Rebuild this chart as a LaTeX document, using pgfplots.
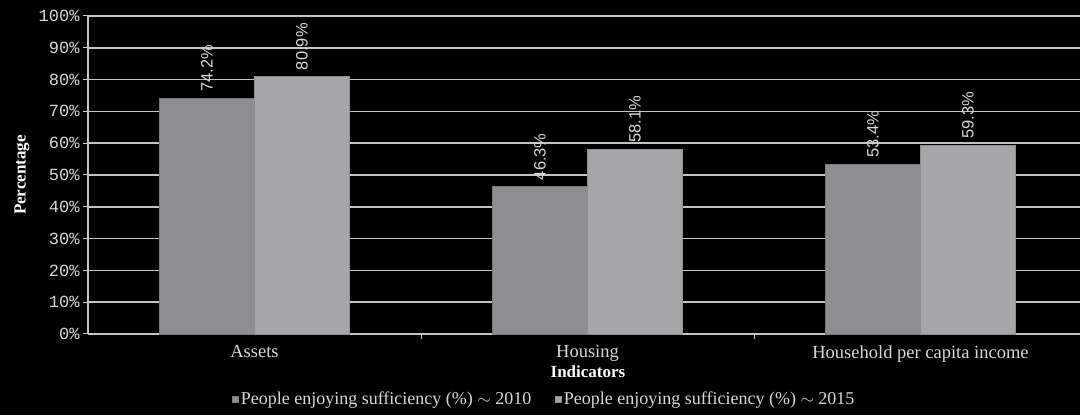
\documentclass[border=0pt]{standalone}
\usepackage{fontspec}
\setmainfont{Liberation Serif}
\newfontfamily\monofont{Liberation Mono}
\newfontfamily\sansfont{Liberation Sans}
\usepackage{pgfplots}
\pgfplotsset{compat=1.18}
\definecolor{barA}{HTML}{8E8E90}
\definecolor{barB}{HTML}{A6A6A8}
\definecolor{edgeA}{HTML}{7A7A7C}
\definecolor{edgeB}{HTML}{8E8E90}
\definecolor{gridc}{HTML}{C4C4C4}
\definecolor{txt}{HTML}{D8D8D8}
\begin{document}
\begin{tikzpicture}[x=1pt,y=1pt]
\fill[black] (0,0) rectangle (1080,415);
\useasboundingbox (0,0) rectangle (1080,415);
\begin{axis}[
  at={(88pt,81pt)}, anchor=south west,
  scale only axis, width=992pt, height=318pt,
  xmin=-0.5, xmax=2.479, ymin=0, ymax=100,
  ybar=0pt, bar width=95pt,
  xtick={0.5,1.5}, xticklabels={},
  extra x ticks={0,1,2}, extra x tick labels={Assets,Housing,Household per capita income},
  extra x tick style={major tick length=0pt, grid=none},
  ytick={0,10,...,100},
  yticklabel={\pgfmathprintnumber{\tick}\%},
  /pgf/number format/assume math mode=true,
  ymajorgrids, grid style={draw=gridc, line width=1.5pt},
  tick style={draw=gridc, line width=1pt}, major tick length=5pt,
  axis line style={draw=gridc, line width=1.5pt},
  axis x line*=bottom, axis y line*=left,
  every outer x axis line/.append style={-}, every outer y axis line/.append style={-},
  tick align=outside,
  yticklabel style={font=\monofont\fontsize{17}{17}\selectfont, text=txt, xshift=0pt},
  xticklabel style={font=\fontsize{18.5}{18.5}\selectfont, text=txt, yshift=-8pt},
  xlabel={Indicators}, ylabel={Percentage},
  xlabel style={font=\bfseries\fontsize{17}{17}\selectfont, text=white, at={(axis description cs:0.504,0)}, anchor=center, yshift=-38pt},
  ylabel style={font=\bfseries\fontsize{17}{17}\selectfont, text=white, at={(axis description cs:-0.0665,0.5)}, anchor=center},
  nodes near coords={\pgfmathprintnumber[fixed,precision=1,fixed zerofill]{\pgfplotspointmeta}\%},
  every node near coord/.append style={font=\sansfont\fontsize{16.5}{16.5}\selectfont, text=txt, rotate=90, anchor=west, xshift=3pt},
  legend style={at={(0.46,0)}, yshift=-65pt, anchor=center, draw=none, fill=none,
    font=\fontsize{18}{18}\selectfont, text=txt, legend columns=2,
    /tikz/every even column/.append style={column sep=22pt}},
  legend image code/.code={\fill[#1] (2pt,-3pt) rectangle (8pt,3pt);},
  clip=false,
]
\addplot[fill=barA, draw=edgeA, line width=0.6pt] coordinates {(0,74.2) (1,46.3) (2,53.4)};
\addplot[fill=barB, draw=edgeB, line width=0.6pt] coordinates {(0,80.9) (1,58.1) (2,59.3)};
\legend{People enjoying sufficiency (\%) $\sim$ 2010, People enjoying sufficiency (\%) $\sim$ 2015}
\end{axis}
\end{tikzpicture}
\end{document}
